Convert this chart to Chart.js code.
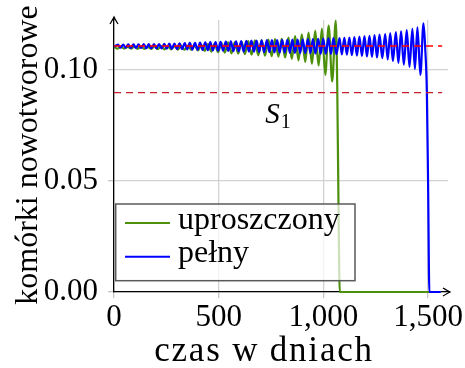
<!DOCTYPE html>
<html>
<head>
<meta charset="utf-8">
<script src="https://cdn.jsdelivr.net/npm/chart.js@4.4.1/dist/chart.umd.min.js"></script>
<style>
    html, body { margin: 0; padding: 0; background: #fff; }
    #wrap { width: 465px; height: 368px; }
</style>
</head>
<body>
<div id="wrap"><canvas id="chart" width="465" height="368"></canvas></div>
<script>
const FONT = "'Liberation Serif', 'Times New Roman', serif";

const xTicks = [0, 500, 1000, 1500];
const xTickLabels = ['0', '500', '1,000', '1,500'];
const yTicks = [0, 0.05, 0.10];
const yTickLabels = ['0.00', '0.05', '0.10'];
const xRange = [0, 1595];
const yRange = [0, 0.1225];

const seriesNames = ['uproszczony', 'pełny'];
const xTitle = 'czas w dniach';
const yTitle = 'komórki nowotworowe';

// poziomy odniesienia (linie przerywane)
const levelX = [0, 1567];
const upperLevel = 0.1108;
const lowerLevel = 0.0898;
const levelName = 'S';
const levelIndex = '1';
const levelLabelAt = [722, 0.0759];

// model uproszczony - kolejne ekstrema
const greenX = [
    1, 17, 33, 49, 65, 81, 97, 113, 129, 145,
    161, 177, 193, 209, 225, 241, 257, 273, 289, 305,
    321, 337, 353, 369, 385, 401, 417, 433, 449, 465,
    481, 497, 513, 529, 545, 561, 577, 593, 609, 625,
    641, 657, 673, 689, 705, 721, 737, 753, 769, 785,
    801, 817, 833, 849, 865, 881, 897, 913, 929, 945,
    961, 977, 993, 1009, 1025, 1042, 1059, 1066, 1072, 1078,
    1560
];
const greenY = [
    .1104, .1096, .1104, .1096, .1104, .1096, .1105, .1095, .1105, .1095,
    .1105, .1095, .1106, .1094, .1107, .1093, .1107, .1093, .1108, .1092,
    .1109, .1091, .1110, .1090, .1111, .1088, .1113, .1086, .1116, .1083,
    .1119, .1080, .1121, .1078, .1124, .1075, .1126, .1073, .1128, .1071,
    .1130, .1069, .1133, .1066, .1135, .1064, .1137, .1062, .1139, .1060,
    .1140, .1056, .1146, .1050, .1153, .1043, .1160, .1036, .1168, .1028,
    .1176, .1020, .1186, .0978, .1200, .0948, .1222, .0930, .0400, 0,
    0
];

// model pełny - kolejne ekstrema
const blueX = [
    0, 19, 31, 44, 56, 68, 80, 93, 105, 117,
    129, 142, 154, 166, 178, 191, 203, 215, 227, 240,
    252, 264, 276, 289, 301, 313, 325, 338, 350, 362,
    374, 387, 399, 411, 423, 436, 448, 460, 472, 485,
    497, 509, 521, 534, 546, 558, 570, 583, 595, 607,
    619, 632, 644, 656, 668, 681, 693, 705, 717, 730,
    742, 754, 766, 779, 791, 803, 815, 828, 840, 852,
    864, 877, 889, 901, 913, 926, 938, 950, 962, 975,
    987, 999, 1011, 1024, 1036, 1048, 1062, 1077, 1088, 1100,
    1112, 1124, 1136, 1148, 1160, 1172, 1184, 1196, 1208, 1220,
    1232, 1244, 1256, 1268, 1281, 1295, 1307, 1319, 1332, 1346,
    1358, 1371, 1384, 1398, 1411, 1425, 1437, 1449, 1463, 1478,
    1486, 1494, 1500, 1506, 1560
];
const blueY = [
    .1104, .1114, .1100, .1114, .1100, .1115, .1099, .1115, .1099, .1115,
    .1099, .1116, .1098, .1116, .1098, .1117, .1097, .1117, .1097, .1118,
    .1096, .1119, .1095, .1119, .1094, .1120, .1094, .1121, .1093, .1122,
    .1092, .1122, .1091, .1123, .1090, .1124, .1089, .1125, .1088, .1126,
    .1087, .1127, .1087, .1128, .1086, .1129, .1085, .1129, .1084, .1130,
    .1083, .1131, .1083, .1132, .1082, .1132, .1081, .1133, .1080, .1134,
    .1080, .1135, .1079, .1135, .1078, .1136, .1078, .1136, .1077, .1137,
    .1077, .1137, .1076, .1138, .1076, .1139, .1075, .1139, .1074, .1140,
    .1073, .1141, .1073, .1142, .1072, .1143, .1071, .1144, .1070, .1145,
    .1069, .1146, .1067, .1148, .1065, .1150, .1063, .1152, .1061, .1154,
    .1059, .1157, .1056, .1159, .1053, .1162, .1047, .1166, .1040, .1170,
    .1032, .1174, .1024, .1179, .1014, .1185, .1004, .1192, .0978, .1210,
    .1100, .0900, .0480, 0, 0
];

function toPoints(xs, ys) {
    return xs.map((x, i) => ({ x: x, y: ys[i] }));
}

function drawArrow(ctx, x, y, dx, dy) {
    // grot w stylu tikz "to"
    const nx = -dy, ny = dx;
    ctx.beginPath();
    ctx.moveTo(x - dx * 7 + nx * 4, y - dy * 7 + ny * 4);
    ctx.quadraticCurveTo(x - dx * 2 + nx * 1, y - dy * 2 + ny * 1, x, y);
    ctx.quadraticCurveTo(x - dx * 2 - nx * 1, y - dy * 2 - ny * 1, x - dx * 7 - nx * 4, y - dy * 7 - ny * 4);
    ctx.stroke();
}

function fixBox(size) {
    return s => {
        if (s.isHorizontal()) s.height = size; else s.width = size;
        s.paddingLeft = 0;
        s.paddingRight = 0;
        s.paddingTop = 0;
        s.paddingBottom = 0;
    };
}

const overlayPlugin = {
    id: 'overlay',
    afterDraw(chart) {
        const ctx = chart.ctx;
        const { left, top, right, bottom } = chart.chartArea;
        const xs = chart.scales.x;
        const ys = chart.scales.y;
        ctx.save();

        // strzalki osi
        ctx.strokeStyle = '#000';
        ctx.lineWidth = 1.3;
        ctx.beginPath();
        ctx.moveTo(left, top);
        ctx.lineTo(left, top - 3);
        ctx.moveTo(right, bottom);
        ctx.lineTo(right + 2, bottom);
        ctx.stroke();
        drawArrow(ctx, left, top - 3, 0, -1);
        drawArrow(ctx, right + 2, bottom, 1, 0);

        // etykieta S1
        ctx.fillStyle = '#000';
        ctx.textBaseline = 'alphabetic';
        ctx.textAlign = 'left';
        const sx = xs.getPixelForValue(levelLabelAt[0]);
        const sy = ys.getPixelForValue(levelLabelAt[1]);
        ctx.font = 'italic 29px ' + FONT;
        ctx.fillText(levelName, sx, sy);
        const sw = ctx.measureText(levelName).width;
        ctx.font = '20px ' + FONT;
        ctx.fillText(levelIndex, sx + sw + 1, sy + 4.5);

        // tytuly osi
        ctx.textAlign = 'center';
        ctx.font = '35px ' + FONT;
        ctx.letterSpacing = '1.8px';
        ctx.fillText(xTitle, 264, 361);
        ctx.letterSpacing = '0px';
        ctx.font = '32px ' + FONT;
        ctx.save();
        ctx.translate(37, (top + bottom) / 2 - 1);
        ctx.rotate(-Math.PI / 2);
        ctx.fillText(yTitle, 0, 0);
        ctx.restore();

        // legenda
        const lx = left + 1.7, ly = 204, lw = 239.3, lh = 76.7;
        ctx.fillStyle = 'rgba(255,255,255,0.72)';
        ctx.fillRect(lx, ly, lw, lh);
        ctx.strokeStyle = '#5a5a5a';
        ctx.lineWidth = 1.5;
        ctx.strokeRect(lx, ly, lw, lh);
        ctx.textAlign = 'left';
        seriesNames.forEach((name, i) => {
            const ds = chart.data.datasets.find(d => d.label === name);
            const yy = ly + 19 + i * 33.7;
            ctx.strokeStyle = ds.borderColor;
            ctx.lineWidth = 2;
            ctx.beginPath();
            ctx.moveTo(lx + 9.3, yy);
            ctx.lineTo(lx + 54.3, yy);
            ctx.stroke();
            ctx.fillStyle = '#000';
            ctx.font = '32px ' + FONT;
            ctx.fillText(name, lx + 62.3, yy + 5.5);
        });

        ctx.restore();
    }
};

const tickFont = { family: FONT, size: 31 };

new Chart(document.getElementById('chart'), {
    type: 'line',
    data: {
        datasets: [
            {
                label: 'upper',
                data: toPoints(levelX, [upperLevel, upperLevel]),
                borderColor: '#ff0000',
                borderWidth: 1.4,
                borderDash: [7, 5],
                pointRadius: 0,
                order: 0
            },
            {
                label: 'lower',
                data: toPoints(levelX, [lowerLevel, lowerLevel]),
                borderColor: '#c8202c',
                borderWidth: 1.3,
                borderDash: [7, 5],
                pointRadius: 0,
                order: 0
            },
            {
                label: seriesNames[1],
                data: toPoints(blueX, blueY),
                borderColor: '#0000ff',
                borderWidth: 2.2,
                pointRadius: 0,
                cubicInterpolationMode: 'monotone',
                clip: false,
                order: 1
            },
            {
                label: seriesNames[0],
                data: toPoints(greenX, greenY),
                borderColor: 'rgb(77,144,12)',
                borderWidth: 2.2,
                pointRadius: 0,
                cubicInterpolationMode: 'monotone',
                clip: false,
                order: 2
            }
        ]
    },
    options: {
        responsive: false,
        animation: false,
        devicePixelRatio: 1,
        layout: { padding: { left: 0, top: 20, right: 17, bottom: 0 } },
        plugins: {
            legend: { display: false },
            tooltip: { enabled: false }
        },
        scales: {
            x: {
                type: 'linear',
                min: xRange[0],
                max: xRange[1],
                afterBuildTicks: s => { s.ticks = xTicks.map(v => ({ value: v })); },
                afterFit: fixBox(76),
                ticks: {
                    callback: v => xTickLabels[xTicks.indexOf(v)],
                    font: tickFont,
                    color: '#000',
                    padding: 1,
                    maxRotation: 0,
                    autoSkip: false
                },
                grid: { color: '#d2d2d2', lineWidth: 1.3, tickLength: 6, tickColor: '#c4c4c4' },
                border: { color: '#000', width: 1.3 }
            },
            y: {
                type: 'linear',
                min: yRange[0],
                max: yRange[1],
                afterBuildTicks: s => { s.ticks = yTicks.map(v => ({ value: v })); },
                afterFit: fixBox(114),
                ticks: {
                    callback: v => yTickLabels[yTicks.indexOf(v)],
                    font: tickFont,
                    color: '#000',
                    padding: 10,
                    autoSkip: false
                },
                grid: { color: '#d2d2d2', lineWidth: 1.3, tickLength: 6, tickColor: '#c4c4c4' },
                border: { color: '#000', width: 1.3 }
            }
        }
    },
    plugins: [overlayPlugin]
});
</script>
</body>
</html>
